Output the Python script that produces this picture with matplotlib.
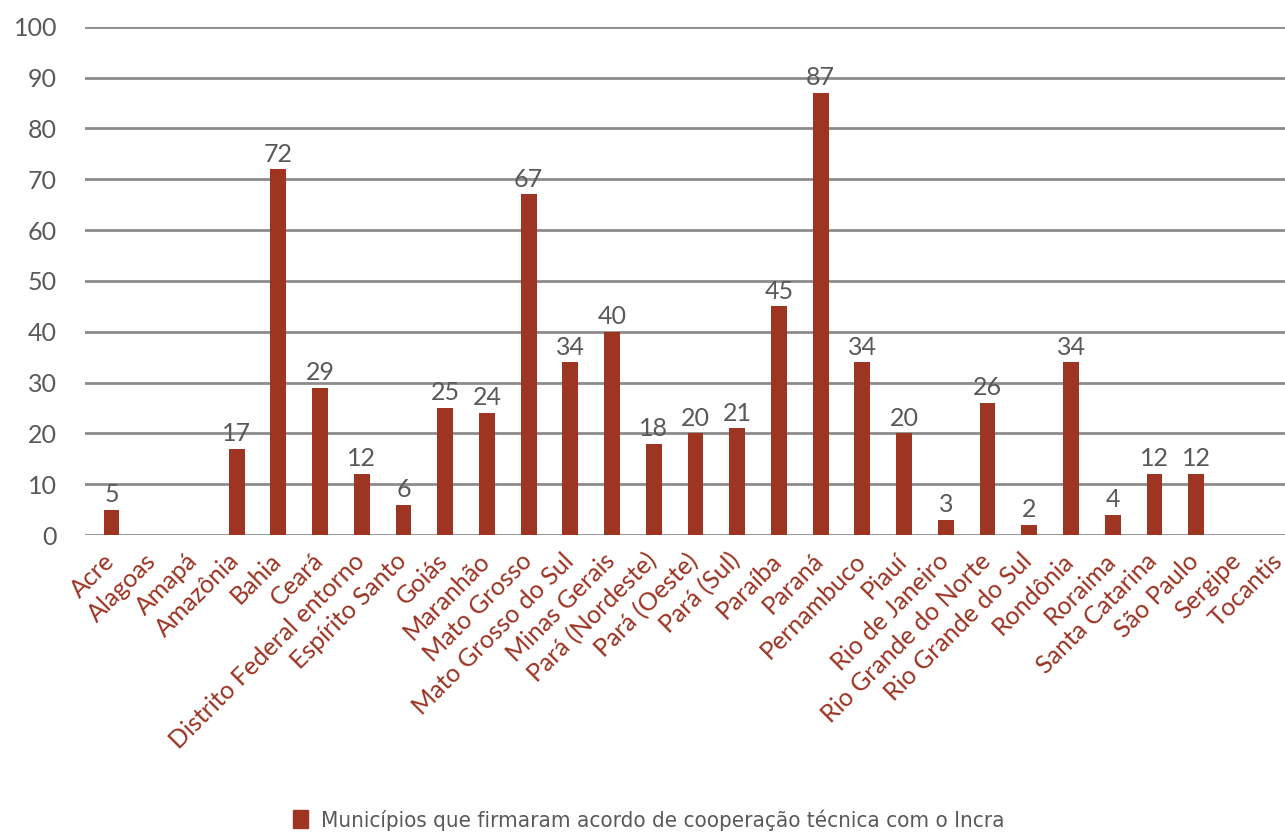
import matplotlib
matplotlib.use("Agg")
import matplotlib.pyplot as plt
import matplotlib.transforms as mtransforms
from matplotlib.patches import Patch

estados = ["Acre", "Alagoas", "Amapá", "Amazônia", "Bahia", "Ceará",
           "Distrito Federal entorno", "Espírito Santo", "Goiás", "Maranhão",
           "Mato Grosso", "Mato Grosso do Sul", "Minas Gerais", "Pará (Nordeste)",
           "Pará (Oeste)", "Pará (Sul)", "Paraíba", "Paraná", "Pernambuco",
           "Piauí", "Rio de Janeiro", "Rio Grande do Norte", "Rio Grande do Sul",
           "Rondônia", "Roraima", "Santa Catarina", "São Paulo", "Sergipe",
           "Tocantis"]
municipios = [5, None, None, 17, 72, 29, 12, 6, 25, 24, 67, 34, 40, 18,
              20, 21, 45, 87, 34, 20, 3, 26, 2, 34, 4, 12, 12, None, None]
# Alagoas, Amapá, Sergipe e Tocantis sem barra
yticks = [0, 10, 20, 30, 40, 50, 60, 70, 80, 90, 100]

bar_color = "#9e3523"
label_red = "#9b3322"
gray_text = "#595959"

plt.rcParams['font.family'] = ['Lato', 'DejaVu Sans']

fig = plt.figure(figsize=(12.85, 8.36), dpi=100)
ax = fig.add_axes([0.066, 0.36, 0.934, 0.608])

xs = list(range(len(estados)))
heights = [v if v is not None else 0 for v in municipios]
ax.bar(xs, heights, width=0.38, color=bar_color, zorder=3)

for x, v in zip(xs, municipios):
    if v is not None:
        ax.text(x, v + 0.7, str(v), ha="center", va="bottom",
                fontsize=18, color=gray_text, zorder=4)

ax.set_xlim(-0.64, 28.13)
ax.set_ylim(0, 100)
ax.set_yticks(yticks)
ax.set_yticklabels([str(t) for t in yticks], fontsize=18, color=gray_text)
ax.yaxis.grid(True, color="#8c8c8c", linewidth=2, zorder=0)
ax.set_axisbelow(True)
ax.tick_params(axis="y", length=0, pad=20)
ax.tick_params(axis="x", length=0, pad=10)
ax.set_xticks(xs)
ax.set_xticklabels(estados, rotation=45, ha="right", rotation_mode="anchor",
                   fontsize=18, color=label_red)
# shift labels a little to the left, like the original
shift = mtransforms.ScaledTranslation(-9 / 100, 0, fig.dpi_scale_trans)
for lbl in ax.get_xticklabels():
    lbl.set_transform(lbl.get_transform() + shift)
for s in ax.spines.values():
    s.set_visible(False)

handle = Patch(color=bar_color, label="Municípios que firmaram acordo de cooperação técnica com o Incra")
fig.legend(handles=[handle], loc="lower center", bbox_to_anchor=(0.505, -0.018),
           frameon=False, handlelength=0.65, handleheight=0.85, handletextpad=0.6,
           prop={"family": "DejaVu Sans", "stretch": "condensed", "size": 16},
           labelcolor=gray_text)

fig.savefig("out.png", dpi=100)
